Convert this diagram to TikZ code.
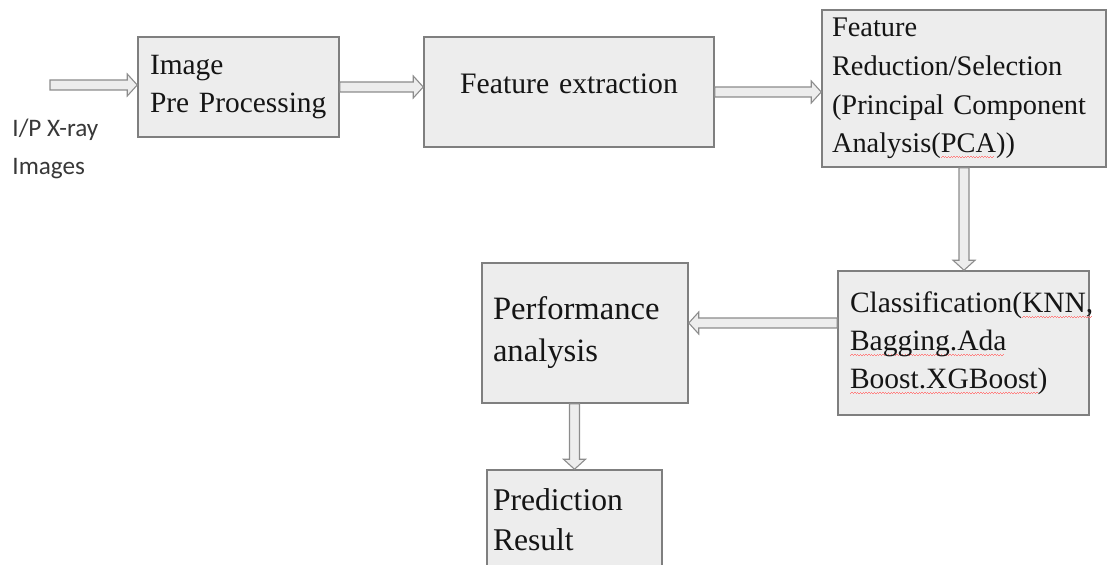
\documentclass[tikz,border=0pt]{standalone}
\usepackage{fontspec}
\usepackage{tikz}
\usetikzlibrary{calc}
\setmainfont{Liberation Serif}[WordSpace=0.85]
\newfontfamily\labelfont{Carlito}
\hyphenpenalty=10000
\definecolor{boxgray}{HTML}{EDEDED}
\definecolor{edgegray}{HTML}{7F7F7F}
\definecolor{inkgray}{HTML}{151515}
\newcommand\wavepiece{\rule{0.7pt}{0.3pt}\rule[0.4pt]{0.7pt}{0.3pt}}
\newcommand\spell[1]{\leavevmode\setbox0\hbox{#1}\rlap{\lower2.6pt\hbox to\wd0{\color{red!50}\leaders\hbox{\wavepiece}\hfill}}\box0}

\begin{document}
\begin{tikzpicture}[x=0.5pt,y=-0.5pt,
		box/.style={draw=edgegray,fill=boxgray,line width=0.75pt,text=inkgray,align=left,inner ysep=0pt},
		flow/.style={draw=edgegray!90,fill=boxgray,line width=0.55pt,line join=miter,
			to path={let \p1=(\tikztostart),\p2=(\tikztotarget),\p3=($(\p2)!5pt!(\p1)$) in
				($(\p1)!2.5pt!90:(\p2)$) -- ($(\p3)!2.5pt!90:(\p2)$) -- ($(\p3)!5.5pt!90:(\p2)$) -- (\p2)
				-- ($(\p3)!5.5pt!-90:(\p2)$) -- ($(\p3)!2.5pt!-90:(\p2)$) -- ($(\p1)!2.5pt!-90:(\p2)$) -- cycle}}]
		\useasboundingbox (0,0) rectangle (1108,565);
		\node[box,text width=88.5pt,inner xsep=6pt,minimum height=50pt,font=\fontsize{14.7}{19.3}\selectfont] (prep) at (238.5,87) {Image\\Pre Processing};
		\node[box,text width=133pt,align=center,inner xsep=6pt,minimum height=55pt,text height=10.5pt,text depth=9pt,font=\fontsize{14.85}{19.3}\selectfont] (feat) at (569,92) {Feature extraction};
		\node[box,text width=132pt,inner xsep=5pt,minimum height=78.5pt,font=\fontsize{14.2}{19.3}\selectfont] (frs) at (964,88.5) {Feature\\Reduction/Selection\\(Principal Component\\Analysis(\spell{PCA}))};
		\node[box,text width=113.5pt,inner xsep=6pt,minimum height=72pt,font=\fontsize{14.75}{19}\selectfont] (cls) at (963.5,343) {Classification(\spell{KNN,}\\\spell{Bagging.Ada}\\\spell{Boost.XGBoost})};
		\node[box,text width=92pt,inner xsep=5.5pt,minimum height=70pt,font=\fontsize{16.3}{21}\selectfont] (perf) at (585,333) {Performance\\analysis};
		\node[box,text width=81.5pt,inner xsep=3pt,minimum height=50pt,font=\fontsize{15.8}{20}\selectfont] (pred) at (574.5,520) {Prediction\\Result};
		\node[anchor=west,inner sep=0pt,align=left,text=inkgray!85,font=\labelfont\fontsize{12.6}{19}\selectfont] (inlabel) at (12,149) {I/P X-ray\\Images};
		\coordinate (src) at (50,85);
		\coordinate (clsin) at ([yshift=10pt]cls.west);
		\draw[flow] (src) to (src -| prep.west);
		\draw[flow] (prep.east) to (prep.east -| feat.west);
		\draw[flow] (feat.east) to (feat.east -| frs.west);
		\draw[flow] (frs.south) to (frs.south |- cls.north);
		\draw[flow] (clsin) to (clsin -| perf.east);
		\draw[flow] (perf.south -| pred.north) to (pred.north);
	\end{tikzpicture}
\end{document}
